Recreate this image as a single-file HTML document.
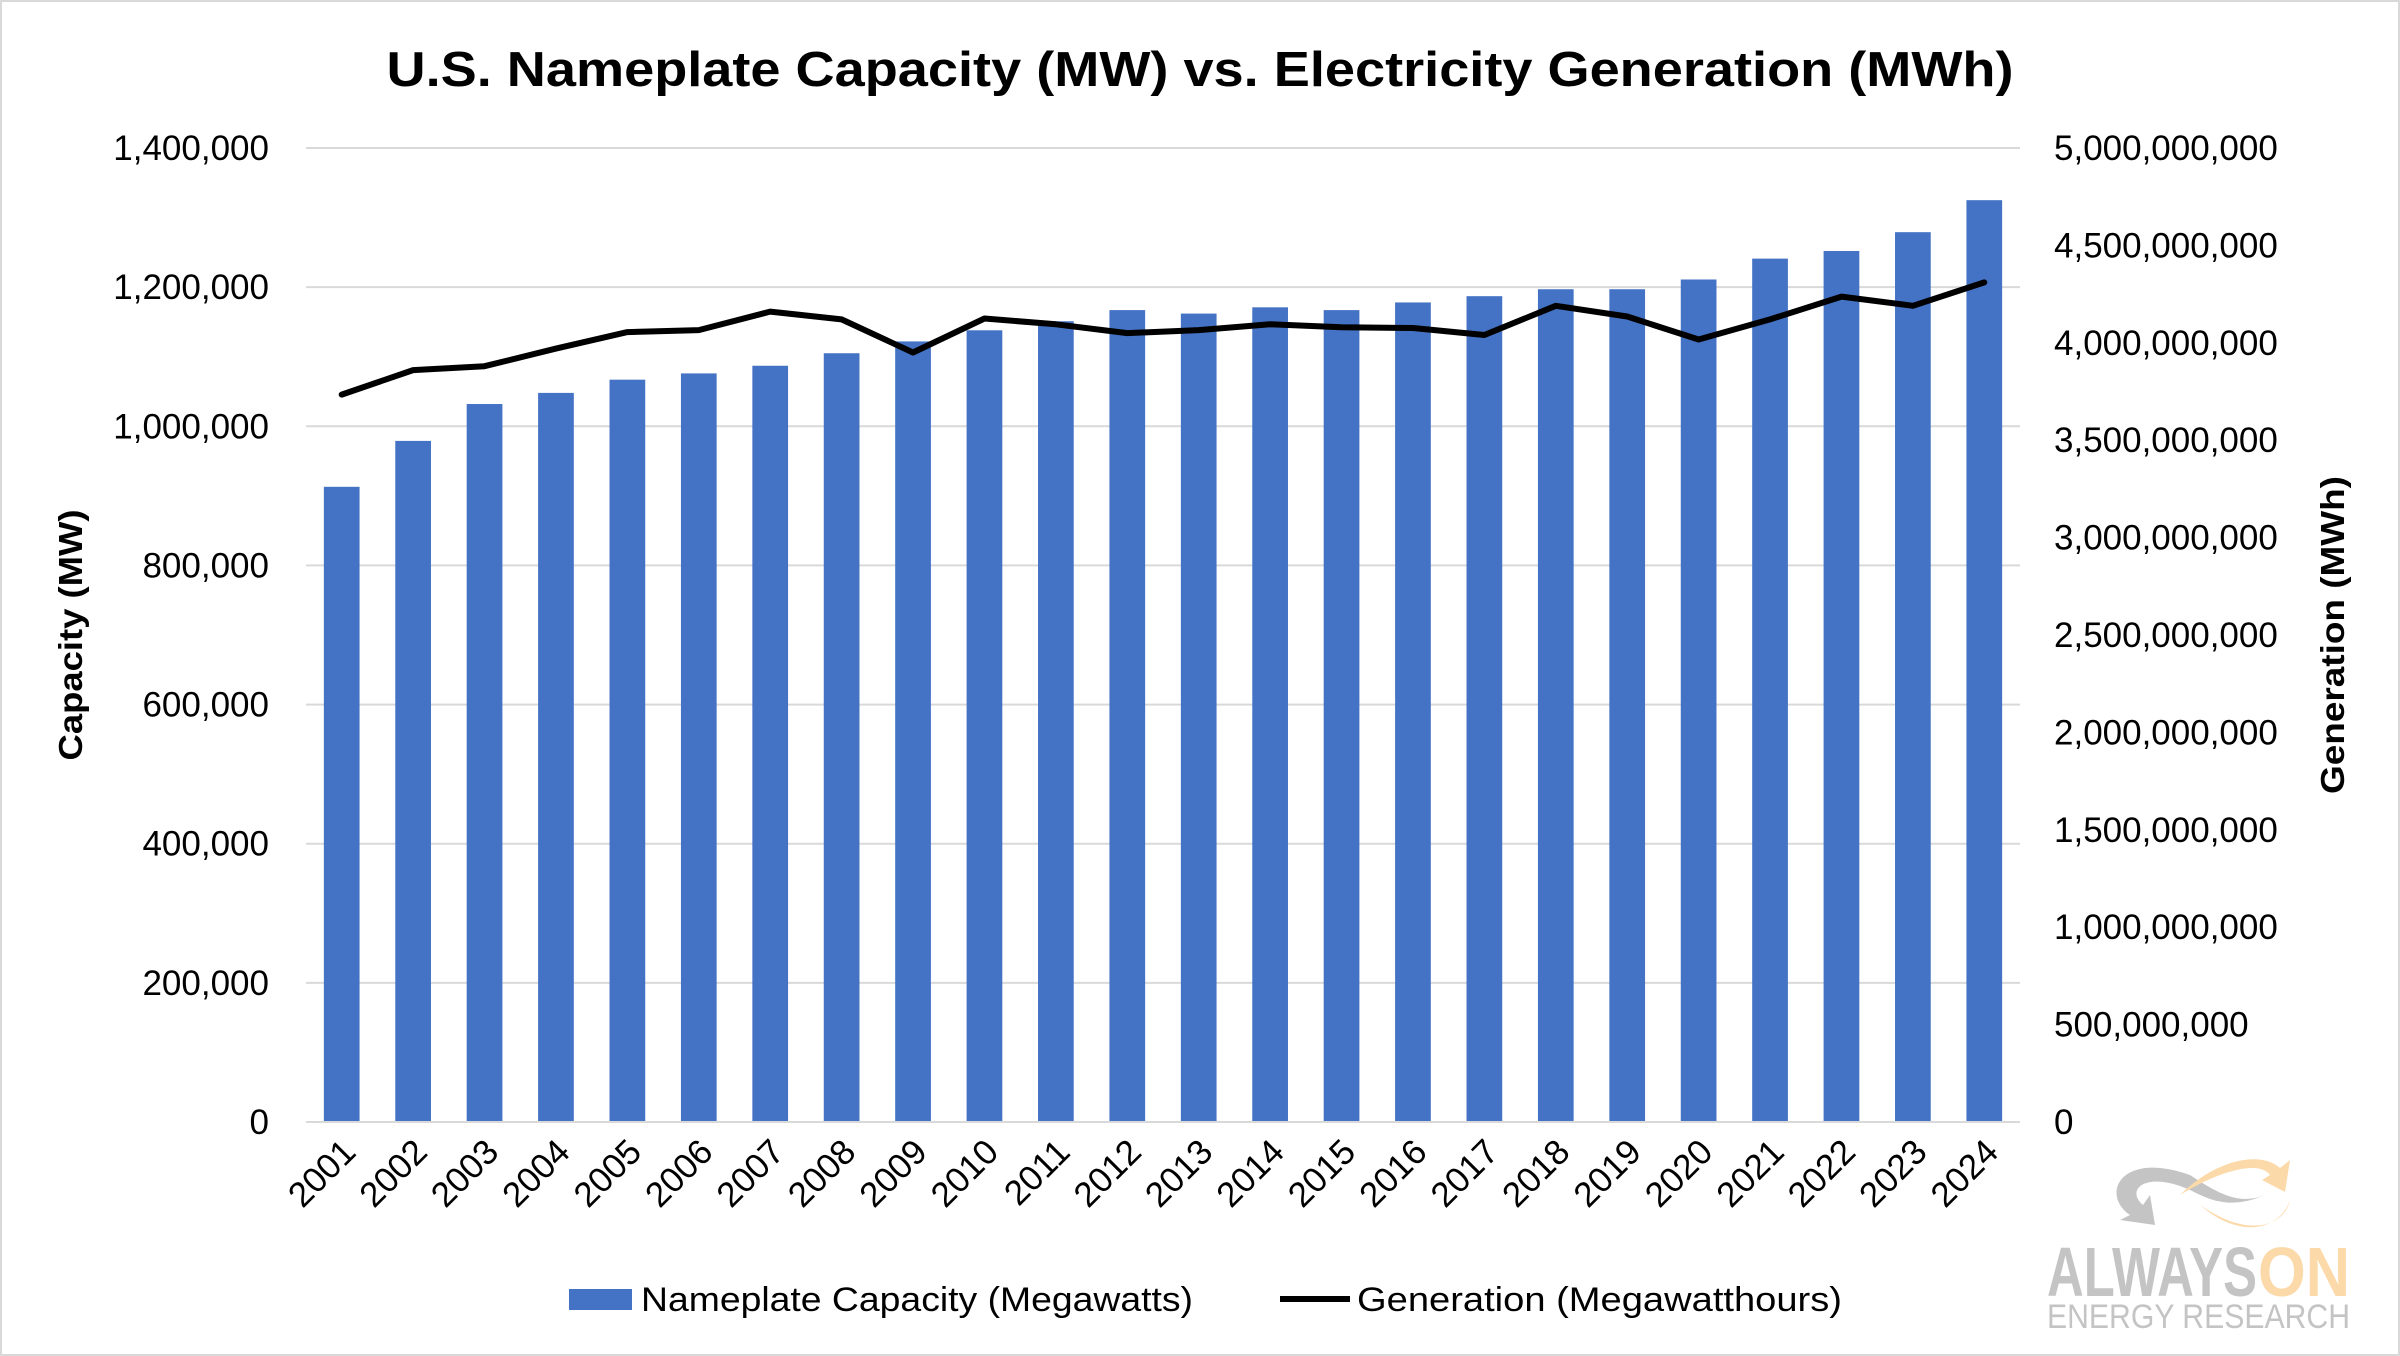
<!DOCTYPE html>
<html><head><meta charset="utf-8">
<style>
html,body{margin:0;padding:0;background:#fff;}
svg{display:block;font-family:"Liberation Sans",sans-serif;}
</style></head>
<body>
<svg id="chart" width="2400" height="1356" viewBox="0 0 2400 1356">
<rect x="1" y="1" width="2398" height="1354" fill="#fff" stroke="#d9d9d9" stroke-width="2"/>
<text x="1200" y="86" text-anchor="middle" font-size="49" font-weight="bold" fill="#000" textLength="1627" lengthAdjust="spacingAndGlyphs">U.S. Nameplate Capacity (MW) vs. Electricity Generation (MWh)</text>
<g id="grid"></g>
<g id="bars"></g>
<g id="line"></g>
<g id="axes"></g>
<text transform="translate(82,635) rotate(-90)" text-anchor="middle" font-size="33" font-weight="bold" textLength="251" lengthAdjust="spacingAndGlyphs">Capacity (MW)</text>
<text transform="translate(2344,635) rotate(-90)" text-anchor="middle" font-size="33" font-weight="bold" textLength="318" lengthAdjust="spacingAndGlyphs">Generation (MWh)</text>
<g>
  <g>
    <rect x="569" y="1289" width="63" height="21" fill="#4472c4"/>
    <text x="641" y="1311" font-size="34" textLength="552" lengthAdjust="spacingAndGlyphs">Nameplate Capacity (Megawatts)</text>
  </g>
  <g>
    <line x1="1280" y1="1299" x2="1350" y2="1299" stroke="#000" stroke-width="6"/>
    <text x="1357" y="1311" font-size="34" textLength="485" lengthAdjust="spacingAndGlyphs">Generation (Megawatthours)</text>
  </g>
</g>
<g>
  <path d="M2190 1175 C2120 1150 2100 1195 2130 1215 L2120 1220 L2155 1225 L2150 1195 L2143 1205 C2125 1190 2145 1170 2190 1190 C2210 1200 2230 1210 2265 1195 C2240 1205 2220 1195 2190 1175Z" fill="#c4c4c4"/>
  <path d="M2180 1195 C2220 1170 2260 1160 2270 1175 L2262 1180 L2285 1192 L2290 1160 L2280 1168 C2260 1150 2215 1160 2180 1195Z" fill="#fcd9a8"/>
  <path d="M2200 1205 C2240 1240 2280 1230 2290 1200 C2285 1225 2250 1240 2200 1205Z" fill="#fcd9a8"/>
  <text x="2047" y="1296" font-size="70" font-weight="bold" fill="#c4c4c4" textLength="210" lengthAdjust="spacingAndGlyphs">ALWAYS</text>
  <text x="2258" y="1296" font-size="70" font-weight="bold" fill="#fcd9a8" textLength="92" lengthAdjust="spacingAndGlyphs">ON</text>
  <text x="2047" y="1328" font-size="34" fill="#c4c4c4" textLength="303" lengthAdjust="spacingAndGlyphs">ENERGY RESEARCH</text>
</g>
</svg>
<script>
const years = ["2001","2002","2003","2004","2005","2006","2007","2008","2009","2010","2011","2012","2013","2014","2015","2016","2017","2018","2019","2020","2021","2022","2023","2024"];
const capacityMW = [913000,979000,1032000,1048000,1067000,1076000,1087000,1105000,1122000,1138000,1151000,1167000,1162000,1171000,1167000,1178000,1187000,1197000,1197000,1211000,1241000,1252000,1279000,1325000];
const generationMWh = [3734e6,3860e6,3880e6,3970e6,4055e6,4065e6,4160e6,4120e6,3950e6,4125e6,4095e6,4050e6,4065e6,4095e6,4080e6,4076e6,4040e6,4190e6,4135e6,4017e6,4120e6,4237e6,4190e6,4310e6];
const leftTicks = [0,200000,400000,600000,800000,1000000,1200000,1400000];
const rightTicks = [0,5e8,1e9,1.5e9,2e9,2.5e9,3e9,3.5e9,4e9,4.5e9,5e9];

const NS = "http://www.w3.org/2000/svg";
const X0 = 306, X1 = 2020, Y0 = 1122, YT = 148;
const LMAX = 1400000, RMAX = 5e9;
const band = (X1 - X0) / years.length;
const xC = i => X0 + band * (i + 0.5);
const yL = v => Y0 - (v / LMAX) * (Y0 - YT);
const yR = v => Y0 - (v / RMAX) * (Y0 - YT);
const fmt = v => v.toLocaleString("en-US");
function mk(tag, attrs, parent, txt) {
  const e = document.createElementNS(NS, tag);
  for (const k in attrs) e.setAttribute(k, attrs[k]);
  if (txt !== undefined) e.textContent = txt;
  parent.appendChild(e);
  return e;
}
const grid = document.getElementById("grid");
const axes = document.getElementById("axes");
leftTicks.forEach(t => {
  const g = mk("line", {x1: X0, x2: X1, y1: yL(t), y2: yL(t), stroke: "#d9d9d9", "stroke-width": 2}, grid);
  
  
  const l = mk("text", {x: 269, y: yL(t) + 12, "text-anchor": "end", "font-size": 35}, axes, fmt(t));
  
  
});
rightTicks.forEach(t => {
  const l = mk("text", {x: 2054, y: yR(t) + 12, "text-anchor": "start", "font-size": 35}, axes, fmt(t));
  
  
});
const bars = document.getElementById("bars");
const bw = band * 0.5;
capacityMW.forEach((v, i) => {
  const r = mk("rect", {x: xC(i) - bw / 2, y: yL(v), width: bw, height: Y0 - yL(v), fill: "#4472c4"}, bars);
  
  
  const t = mk("text", {transform: `translate(${xC(i) + 16},${Y0 + 32}) rotate(-45)`, "text-anchor": "end", "font-size": 35}, axes, years[i]);
  
  
});
const base = mk("line", {x1: X0, x2: X1, y1: Y0, y2: Y0, stroke: "#d9d9d9", "stroke-width": 2}, axes);


const pts = generationMWh.map((v, i) => xC(i).toFixed(1) + "," + yR(v).toFixed(1)).join(" ");
const pl = mk("polyline", {points: pts, fill: "none", stroke: "#000", "stroke-width": 6, "stroke-linejoin": "round", "stroke-linecap": "round"}, document.getElementById("line"));


</script>
</body></html>
